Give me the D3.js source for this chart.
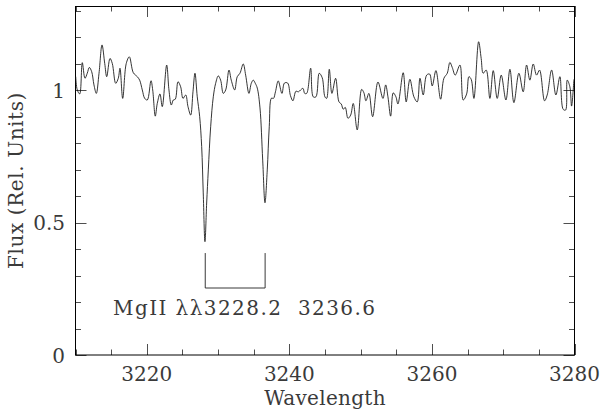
<!DOCTYPE html>
<html>
<head>
<meta charset="utf-8">
<script src="https://cdn.jsdelivr.net/npm/d3@7"></script>
<style>
html,body{margin:0;padding:0;background:#fff;}
text{font-family:"DejaVu Serif","Liberation Serif",serif;fill:#3a3a3a;}
</style>
</head>
<body>
<svg id="chart" width="600" height="413"></svg>
<script>
// ---- data ----
const wavelength = [3210.03,3210.25,3210.59,3210.95,3211.33,3211.65,3211.94,3212.27,3212.59,3212.92,
3213.30,3213.72,3214.10,3214.38,3214.84,3215.16,3215.64,3216.00,3216.24,3216.62,
3217.12,3217.55,3218.11,3218.67,3219.00,3219.37,3219.71,3220.07,3220.59,3220.83,
3221.19,3221.47,3221.85,3222.17,3222.79,3223.11,3223.44,3223.72,3224.00,3224.38,
3224.75,3225.08,3225.46,3225.78,3226.16,3226.48,3226.76,3227.08,3227.42,3227.70,
3227.92,3228.16,3228.40,3228.63,3228.96,3229.33,3229.66,3230.03,3230.36,3230.73,
3231.07,3231.53,3231.85,3232.33,3232.69,3233.07,3233.53,3233.87,3234.33,3234.66,
3234.94,3235.22,3235.50,3235.88,3236.26,3236.58,3236.90,3237.18,3237.49,3237.77,
3238.05,3238.44,3238.96,3239.31,3239.76,3240.15,3240.50,3240.92,3241.28,3241.58,
3241.91,3242.15,3242.43,3242.99,3243.35,3243.73,3244.19,3244.61,3244.99,3245.23,
3245.60,3245.97,3246.49,3246.96,3247.28,3247.56,3247.84,3248.22,3248.60,3248.96,
3249.52,3250.14,3250.46,3250.74,3251.16,3251.68,3252.43,3253.13,3253.51,3253.83,
3254.21,3254.57,3254.95,3255.23,3255.97,3256.39,3256.91,3257.47,3257.94,3258.32,
3258.78,3259.26,3259.68,3260.04,3260.56,3261.22,3261.68,3262.15,3262.52,3262.85,
3263.27,3263.93,3264.39,3264.87,3265.19,3265.51,3265.89,3266.55,3266.91,3267.19,
3267.61,3268.13,3268.60,3269.16,3269.72,3270.38,3270.94,3271.50,3272.20,3272.80,
3273.28,3273.74,3274.21,3274.68,3275.10,3275.80,3276.17,3276.79,3277.39,3277.95,
3278.41,3278.75,3278.98,3279.35,3279.59,3279.92];
const flux = [1.051,1.001,0.986,1.104,1.045,1.064,1.086,1.070,1.020,0.988,
1.064,1.171,1.101,1.051,1.120,1.101,1.026,1.045,1.083,0.969,
1.101,1.126,1.066,1.051,1.038,1.001,0.969,0.963,1.036,1.001,
0.902,0.950,0.986,0.938,1.095,1.001,0.944,0.963,0.966,1.032,
1.013,0.969,0.982,0.938,0.906,0.994,1.064,0.975,0.900,0.787,
0.612,0.428,0.574,0.699,0.862,0.975,1.026,1.054,1.038,0.988,
1.001,1.076,1.038,1.001,1.051,1.064,1.099,1.057,0.988,1.026,
1.038,1.026,1.008,0.933,0.736,0.575,0.699,0.862,0.970,0.969,
0.994,1.035,0.988,1.027,1.027,0.980,0.960,0.996,0.994,1.001,
1.007,0.988,0.988,1.083,0.975,0.975,1.064,1.047,0.975,0.969,
1.079,0.988,1.045,0.956,0.948,0.928,0.935,0.894,0.906,0.950,
0.850,1.003,0.990,0.960,0.988,0.900,1.031,0.969,1.020,0.975,
0.902,0.990,0.975,0.948,1.066,0.956,1.041,0.975,0.956,1.045,
0.982,1.057,1.061,1.016,1.074,0.966,1.045,1.064,1.105,1.086,
1.057,1.095,0.963,0.986,1.051,1.041,0.969,1.183,1.120,1.064,
1.076,0.969,1.074,0.969,1.057,0.963,1.079,0.953,1.064,0.994,
1.095,1.038,1.099,1.057,1.076,0.960,0.982,1.076,0.982,1.051,
0.928,0.925,1.038,1.013,0.940,1.041];
const xTickLabels = [3220, 3240, 3260, 3280];
const yTickLabels = [0, 0.5, 1];
const lineWavelengths = [3228.2, 3236.6];
const annotationText = "MgII \u03bb\u03bb3228.2  3236.6";
const xLabel = "Wavelength";
const yLabel = "Flux (Rel. Units)";

// ---- layout ----
const L = 75.5, R = 574.5, T = 6, B = 355;
const svg = d3.select("#chart");
const x = d3.scaleLinear().domain([3210, 3280]).range([L, R]);
const y = d3.scaleLinear().domain([0, 1.318]).range([B, T]);

const tickColor = "#222";
const xMinor = d3.range(3210, 3280.01, 5);
const yMinor = d3.range(0, 1.31, 0.1).map(v => +v.toFixed(2));
const isXMajor = v => Math.abs(v % 20) < 1e-6;
const isYMajor = v => Math.abs((v * 2) - Math.round(v * 2)) < 1e-6;

const g = svg.append("g");
xMinor.forEach(v => {
  const len = isXMajor(v) ? 11 : 5.5;
  const px = Math.round(x(v)) + 0.5;
  g.append("line").attr("x1", px).attr("x2", px).attr("y1", B).attr("y2", B - len).attr("stroke", tickColor).attr("stroke-width", 0.8);
  g.append("line").attr("x1", px).attr("x2", px).attr("y1", T).attr("y2", T + len).attr("stroke", tickColor).attr("stroke-width", 0.8);
});
yMinor.forEach(v => {
  const len = isYMajor(v) ? 11 : 5.5;
  const py = Math.round(y(v)) + 0.5;
  g.append("line").attr("x1", L).attr("x2", L + len).attr("y1", py).attr("y2", py).attr("stroke", tickColor).attr("stroke-width", 0.8);
  g.append("line").attr("x1", R).attr("x2", R - len).attr("y1", py).attr("y2", py).attr("stroke", tickColor).attr("stroke-width", 0.8);
});

svg.append("rect").attr("x", L).attr("y", T + 0.5).attr("width", R - L).attr("height", B - T - 0.5)
  .attr("fill", "none").attr("stroke", "#000").attr("stroke-width", 1);

svg.selectAll(".xl").data(xTickLabels).enter().append("text")
  .attr("x", d => x(d)).attr("y", 381).attr("text-anchor", "middle")
  .attr("font-size", 20).text(d => d);
svg.selectAll(".yl").data(yTickLabels).enter().append("text")
  .attr("x", 65).attr("y", d => y(d) + 7.5).attr("text-anchor", "end")
  .attr("font-size", 20).text(d => d);

svg.append("text").attr("x", (L + R) / 2).attr("y", 405).attr("text-anchor", "middle")
  .attr("font-size", 20).attr("letter-spacing", 0.3).text(xLabel);
svg.append("text").attr("transform", `translate(23,${(T + B) / 2}) rotate(-90)`)
  .attr("text-anchor", "middle").attr("font-size", 20).attr("letter-spacing", 0.6).text(yLabel);

const line = d3.line().x((d, i) => x(wavelength[i])).y(d => y(d)).curve(d3.curveCatmullRom.alpha(0.5));
svg.append("path").datum(flux).attr("d", line).attr("fill", "none")
  .attr("stroke", "#111").attr("stroke-width", 0.85);

const bTop = 0.385, bBot = 0.253;
const br = d3.path();
br.moveTo(x(lineWavelengths[0]), y(bTop));
br.lineTo(x(lineWavelengths[0]), y(bBot));
br.lineTo(x(lineWavelengths[1]), y(bBot));
br.lineTo(x(lineWavelengths[1]), y(bTop));
svg.append("path").attr("d", br.toString()).attr("fill", "none").attr("stroke", "#222").attr("stroke-width", 0.9);
svg.append("text").attr("x", 113).attr("y", 315).attr("font-size", 20)
  .attr("textLength", 262).attr("lengthAdjust", "spacing")
  .attr("xml:space", "preserve").style("white-space", "pre").text(annotationText);
</script>
</body>
</html>
